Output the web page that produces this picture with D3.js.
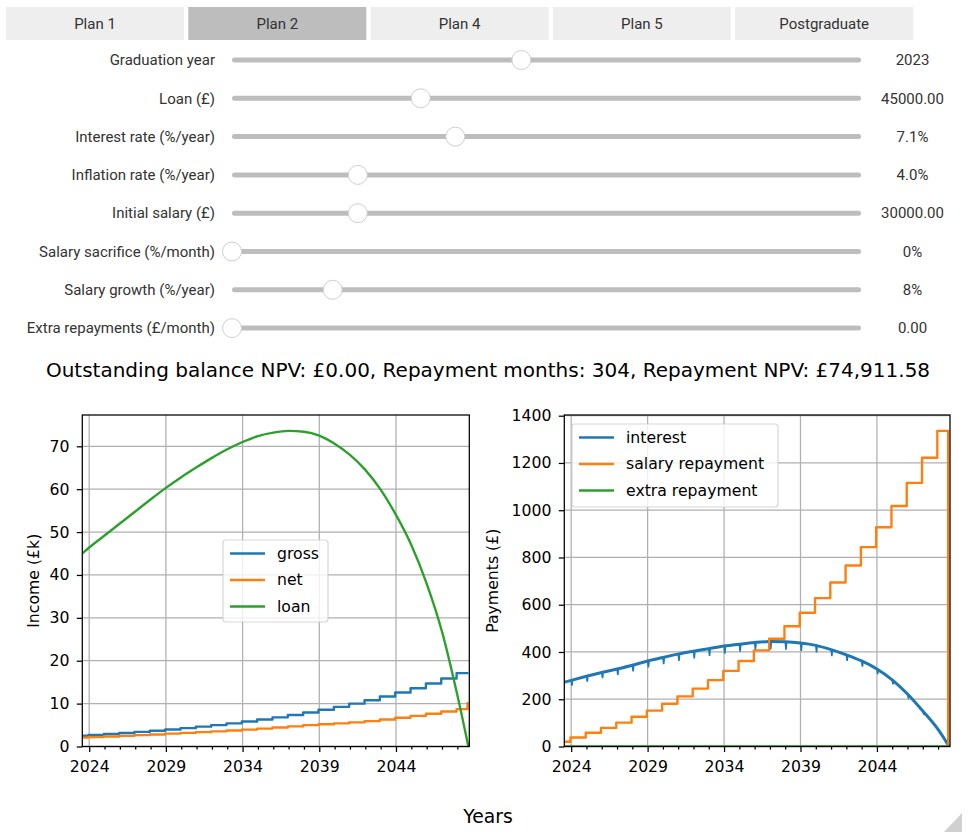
<!DOCTYPE html>
<html>
<head>
<meta charset="utf-8">
<script src="https://cdn.jsdelivr.net/npm/d3@7"></script>
<style>
  html, body { margin: 0; padding: 0; background: #fff; }
  svg { display: block; }
  .ui { font-family: Roboto, "Liberation Sans", Arial, sans-serif; }
  .mpl { font-family: "DejaVu Sans", sans-serif; }
</style>
</head>
<body>
<svg id="page" width="968" height="837"></svg>
<script>
// ---- widget values ----
var tabNames = ['Plan 1', 'Plan 2', 'Plan 4', 'Plan 5', 'Postgraduate'];
var selectedTab = 'Plan 2';

var sliderLabels = ['Graduation year', 'Loan (£)', 'Interest rate (%/year)', 'Inflation rate (%/year)',
    'Initial salary (£)', 'Salary sacrifice (%/month)', 'Salary growth (%/year)', 'Extra repayments (£/month)'];
var sliderValues = [2023, 45000, 7.1, 4.0, 30000, 0, 8, 0];
var sliderMin = [2000, 0, 0, 0, 0, 0, 0, 0];
var sliderMax = [2050, 150000, 20, 20, 150000, 100, 50, 1000];
var sliderReadouts = ['2023', '45000.00', '7.1%', '4.0%', '30000.00', '0%', '8%', '0.00'];

var summaryText = 'Outstanding balance NPV: £0.00, Repayment months: 304, Repayment NPV: £74,911.58';

// ---- chart data ----
var xDomain = [2023.55, 2048.78];
var majorYears = [2024, 2029, 2034, 2039, 2044];
var minorYears = [2025, 2026, 2027, 2028, 2030, 2031, 2032, 2033, 2035, 2036, 2037, 2038,
    2040, 2041, 2042, 2043, 2045, 2046, 2047, 2048];
var incomeTicks = [0, 10, 20, 30, 40, 50, 60, 70];
var paymentTicks = [0, 200, 400, 600, 800, 1000, 1200, 1400];

// salary rises each December
var stepYears = [2023.55, 2023.95, 2024.95, 2025.95, 2026.95, 2027.95, 2028.95, 2029.95, 2030.95,
    2031.95, 2032.95, 2033.95, 2034.95, 2035.95, 2036.95, 2037.95, 2038.95, 2039.95, 2040.95,
    2041.95, 2042.95, 2043.95, 2044.95, 2045.95, 2046.95, 2047.95];
var lastMonthYear = 2048.66;
var endYear = 2048.72;

var grossK = [2.50, 2.70, 2.92, 3.15, 3.40, 3.67, 3.97, 4.28, 4.63, 5.00, 5.40, 5.83, 6.30,
    6.80, 7.34, 7.93, 8.56, 9.25, 9.99, 10.79, 11.65, 12.58, 13.59, 14.68, 15.85, 17.12];
var netK = [2.07, 2.20, 2.33, 2.48, 2.64, 2.81, 3.00, 3.18, 3.35, 3.53, 3.73, 3.94, 4.17,
    4.42, 4.68, 4.97, 5.20, 5.40, 5.62, 5.91, 6.29, 6.70, 7.15, 7.63, 8.15, 8.72];
var netLastK = 10.1;

var salaryRepay = [20, 38, 58, 79, 101, 126, 152, 181, 212, 245, 281, 320, 362, 407, 456,
    509, 566, 628, 694, 766, 844, 928, 1018, 1116, 1222, 1336];
var salaryLast = 5;
var extraRepay = [0, 0, 0, 0, 0, 0, 0, 0, 0, 0, 0, 0, 0, 0, 0, 0, 0, 0, 0, 0, 0, 0, 0, 0, 0, 0];

var balanceYears = [2023.55, 2024, 2025, 2026, 2027, 2028, 2029, 2030, 2031, 2032, 2033, 2034,
    2035, 2036, 2037, 2038, 2039, 2040, 2041, 2042, 2043, 2044, 2045, 2046, 2047, 2048, 2048.72];
var loanK = [45.0, 46.4, 49.2, 52.0, 54.8, 57.6, 60.3, 62.8, 65.1, 67.3, 69.3, 71.0, 72.4,
    73.2, 73.6, 73.4, 72.5, 70.6, 68.0, 64.5, 59.9, 54.0, 47.0, 38.0, 26.8, 12.0, 0];
var interest = [272, 280, 297, 313, 328, 344, 362, 377, 391, 403, 414, 425, 433, 440, 444,
    443, 438, 428, 410, 388, 362, 328, 282, 222, 150, 72, 0];
// February months dip (fewer days of interest)
var febYears = [2024.05, 2025.05, 2026.05, 2027.05, 2028.05, 2029.05, 2030.05, 2031.05, 2032.05,
    2033.05, 2034.05, 2035.05, 2036.05, 2037.05, 2038.05, 2039.05, 2040.05, 2041.05, 2042.05,
    2043.05, 2044.05, 2045.05, 2046.05, 2047.05, 2048.05];
var febInterest = [258, 274, 289, 303, 318, 335, 349, 362, 373, 383, 393, 401, 407, 411, 410,
    405, 398, 382, 362, 338, 306, 263, 208, 140, 68];

var C_BLUE = '#1f77b4', C_ORANGE = '#ff7f0e', C_GREEN = '#2ca02c';

var svg = d3.select('#page');

// ---- tabs ----
var tabW = 178, tabStep = 182.3, tabX0 = 6, tabY = 7, tabH = 33;
var tabG = svg.append('g').attr('class', 'ui');
tabG.selectAll('rect').data(tabNames).join('rect')
    .attr('x', function(d, i) { return tabX0 + i * tabStep; })
    .attr('y', tabY)
    .attr('width', tabW)
    .attr('height', tabH)
    .attr('fill', function(d) { return d === selectedTab ? '#bdbdbd' : '#eeeeee'; });
tabG.selectAll('text').data(tabNames).join('text')
    .attr('x', function(d, i) { return tabX0 + i * tabStep + tabW / 2; })
    .attr('y', tabY + tabH / 2)
    .attr('dy', '0.35em')
    .attr('text-anchor', 'middle')
    .attr('font-size', 15)
    .attr('fill', '#333')
    .text(function(d) { return d; });

// ---- sliders ----
var trackX0 = 232, trackX1 = 861, rowY0 = 60, rowStep = 38.3;
var sliderG = svg.append('g').attr('class', 'ui');
sliderLabels.forEach(function(label, i) {
    var s = d3.scaleLinear().domain([sliderMin[i], sliderMax[i]]).range([trackX0, trackX1]);
    var cy = rowY0 + i * rowStep;
    sliderG.append('text')
        .attr('x', 215).attr('y', cy).attr('dy', '0.35em')
        .attr('text-anchor', 'end').attr('font-size', 15).attr('fill', '#333')
        .text(label);
    sliderG.append('rect')
        .attr('x', trackX0).attr('y', cy - 2.5)
        .attr('width', trackX1 - trackX0).attr('height', 5).attr('rx', 2.5)
        .attr('fill', '#bdbdbd');
    sliderG.append('circle')
        .attr('cx', s(sliderValues[i])).attr('cy', cy).attr('r', 9.5)
        .attr('fill', '#fff').attr('stroke', '#cfcfcf').attr('stroke-width', 1);
    // readout is centred in its box
    sliderG.append('text')
        .attr('x', 912.5).attr('y', cy).attr('dy', '0.35em')
        .attr('text-anchor', 'middle').attr('font-size', 15).attr('fill', '#333')
        .text(sliderReadouts[i]);
});

// ---- figure texts ----
svg.append('text').attr('class', 'mpl')
    .attr('x', 488).attr('y', 377)
    .attr('text-anchor', 'middle').attr('font-size', 20)
    .text(summaryText);
svg.append('text').attr('class', 'mpl')
    .attr('x', 488).attr('y', 823)
    .attr('text-anchor', 'middle').attr('font-size', 18.8)
    .text('Years');

// resize handle
svg.append('path')
    .attr('d', 'M944,832L962,832L962,813Z')
    .attr('fill', '#d0d0d0');

function drawPanel(p) {
    var g = svg.append('g').attr('class', 'mpl');
    var x = d3.scaleLinear().domain(xDomain).range([p.left, p.right]);
    var y = d3.scaleLinear().domain([0, p.yMax]).range([p.bottom, p.top]);

    // grid
    var grid = g.append('g').attr('stroke', '#b0b0b0').attr('stroke-width', 1.26);
    grid.selectAll('.gx').data(majorYears).join('line')
        .attr('x1', function(d) { return x(d); })
        .attr('x2', function(d) { return x(d); })
        .attr('y1', p.top).attr('y2', p.bottom);
    grid.selectAll('.gy').data(p.yTicks).join('line')
        .attr('x1', p.left).attr('x2', p.right)
        .attr('y1', function(d) { return y(d); })
        .attr('y2', function(d) { return y(d); });

    g.append('clipPath').attr('id', 'clip-' + p.id)
        .append('rect')
        .attr('x', p.left).attr('y', p.top)
        .attr('width', p.right - p.left).attr('height', p.bottom - p.top);
    var plot = g.append('g').attr('clip-path', 'url(#clip-' + p.id + ')');
    p.draw(plot, x, y);

    // spines
    g.append('rect')
        .attr('x', p.left).attr('y', p.top)
        .attr('width', p.right - p.left).attr('height', p.bottom - p.top)
        .attr('fill', 'none').attr('stroke', '#000').attr('stroke-width', 1.26);

    // axes
    var xa = g.append('g').attr('transform', 'translate(0,' + p.bottom + ')')
        .call(d3.axisBottom(x).tickValues(majorYears).tickFormat(d3.format('d'))
            .tickSize(5.5).tickPadding(8.5));
    var xm = g.append('g').attr('transform', 'translate(0,' + p.bottom + ')')
        .call(d3.axisBottom(x).tickValues(minorYears).tickFormat('').tickSize(3.1));
    var ya = g.append('g').attr('transform', 'translate(' + p.left + ',0)')
        .call(d3.axisLeft(y).tickValues(p.yTicks).tickFormat(d3.format('d'))
            .tickSize(5.5).tickPadding(7.3));
    [xa, xm, ya].forEach(function(a) {
        a.attr('font-family', null).attr('font-size', null);
        a.select('.domain').remove();
        a.selectAll('line').attr('stroke', '#000').attr('stroke-width', 1.26);
        a.selectAll('text').attr('font-size', 15.7).attr('fill', '#000');
    });

    g.append('text')
        .attr('transform', 'translate(' + p.ylabelX + ',' + (p.top + p.bottom) / 2 + ') rotate(-90)')
        .attr('dy', '0.35em')
        .attr('text-anchor', 'middle')
        .attr('font-size', 15.7)
        .text(p.ylabel);

    // legend
    var lg = g.append('g');
    var b = p.legend;
    lg.append('rect')
        .attr('x', b.x).attr('y', b.y).attr('width', b.w).attr('height', b.h)
        .attr('rx', 3)
        .attr('fill', '#fff').attr('fill-opacity', 0.8)
        .attr('stroke', '#cccccc').attr('stroke-opacity', 0.8).attr('stroke-width', 1.2);
    lg.selectAll('line').data(p.legendItems).join('line')
        .attr('x1', b.x + 7).attr('x2', b.x + 42)
        .attr('y1', function(d, i) { return b.y + 13.5 + i * 26.5; })
        .attr('y2', function(d, i) { return b.y + 13.5 + i * 26.5; })
        .attr('stroke', function(d) { return d.color; })
        .attr('stroke-width', 2.36);
    lg.selectAll('text').data(p.legendItems).join('text')
        .attr('x', b.x + 54)
        .attr('y', function(d, i) { return b.y + 13.5 + i * 26.5; })
        .attr('dy', '0.35em')
        .attr('font-size', 15.7)
        .text(function(d) { return d.label; });
}

function stepPoints(values, lastValue) {
    var pts = stepYears.map(function(t, i) { return [t, values[i]]; });
    if (lastValue !== undefined) pts.push([lastMonthYear, lastValue]);
    pts.push([endYear, pts[pts.length - 1][1]]);
    return pts;
}

function addPath(plot, pts, line, color, width) {
    plot.append('path').datum(pts)
        .attr('d', line)
        .attr('fill', 'none')
        .attr('stroke', color)
        .attr('stroke-width', width)
        .attr('stroke-linejoin', 'round');
}

// ---- income panel ----
drawPanel({
    id: 'income',
    left: 82.3, right: 469.3, top: 415, bottom: 746.5,
    yMax: 77.3,
    yTicks: incomeTicks,
    ylabel: 'Income (£k)',
    ylabelX: 33,
    legend: { x: 223, y: 540, w: 105, h: 82 },
    legendItems: [
        { label: 'gross', color: C_BLUE },
        { label: 'net', color: C_ORANGE },
        { label: 'loan', color: C_GREEN }
    ],
    draw: function(plot, x, y) {
        var step = d3.line().curve(d3.curveStepAfter)
            .x(function(d) { return x(d[0]); })
            .y(function(d) { return y(d[1]); });
        var smooth = d3.line().curve(d3.curveMonotoneX)
            .x(function(d) { return x(d[0]); })
            .y(function(d) { return y(d[1]); });
        addPath(plot, stepPoints(grossK), step, C_BLUE, 2.36);
        addPath(plot, stepPoints(netK, netLastK), step, C_ORANGE, 2.36);
        addPath(plot, balanceYears.map(function(t, i) { return [t, loanK[i]]; }), smooth, C_GREEN, 2.36);
    }
});

// ---- payments panel ----
drawPanel({
    id: 'payments',
    left: 564.3, right: 950, top: 415, bottom: 746.5,
    yMax: 1403,
    yTicks: paymentTicks,
    ylabel: 'Payments (£)',
    ylabelX: 492,
    legend: { x: 572, y: 424, w: 206, h: 83 },
    legendItems: [
        { label: 'interest', color: C_BLUE },
        { label: 'salary repayment', color: C_ORANGE },
        { label: 'extra repayment', color: C_GREEN }
    ],
    draw: function(plot, x, y) {
        var step = d3.line().curve(d3.curveStepAfter)
            .x(function(d) { return x(d[0]); })
            .y(function(d) { return y(d[1]); });
        var smooth = d3.line().curve(d3.curveMonotoneX)
            .x(function(d) { return x(d[0]); })
            .y(function(d) { return y(d[1]); });
        addPath(plot, balanceYears.map(function(t, i) { return [t, interest[i]]; }), smooth, C_BLUE, 3.0);
        // February dips hang from the curve value at the start of that year
        plot.append('g').selectAll('path').data(febYears).join('path')
            .attr('d', function(t, i) {
                var base = y(interest[i + 1]) + 1;
                return 'M' + x(t - 0.04) + ',' + base + 'L' + x(t) + ',' + y(febInterest[i]) +
                    'L' + x(t + 0.04) + ',' + base;
            })
            .attr('fill', 'none')
            .attr('stroke', C_BLUE)
            .attr('stroke-width', 1.6);
        addPath(plot, stepPoints(salaryRepay, salaryLast), step, C_ORANGE, 2.36);
        addPath(plot, stepPoints(extraRepay), step, C_GREEN, 2.36);
    }
});
</script>
</body>
</html>
